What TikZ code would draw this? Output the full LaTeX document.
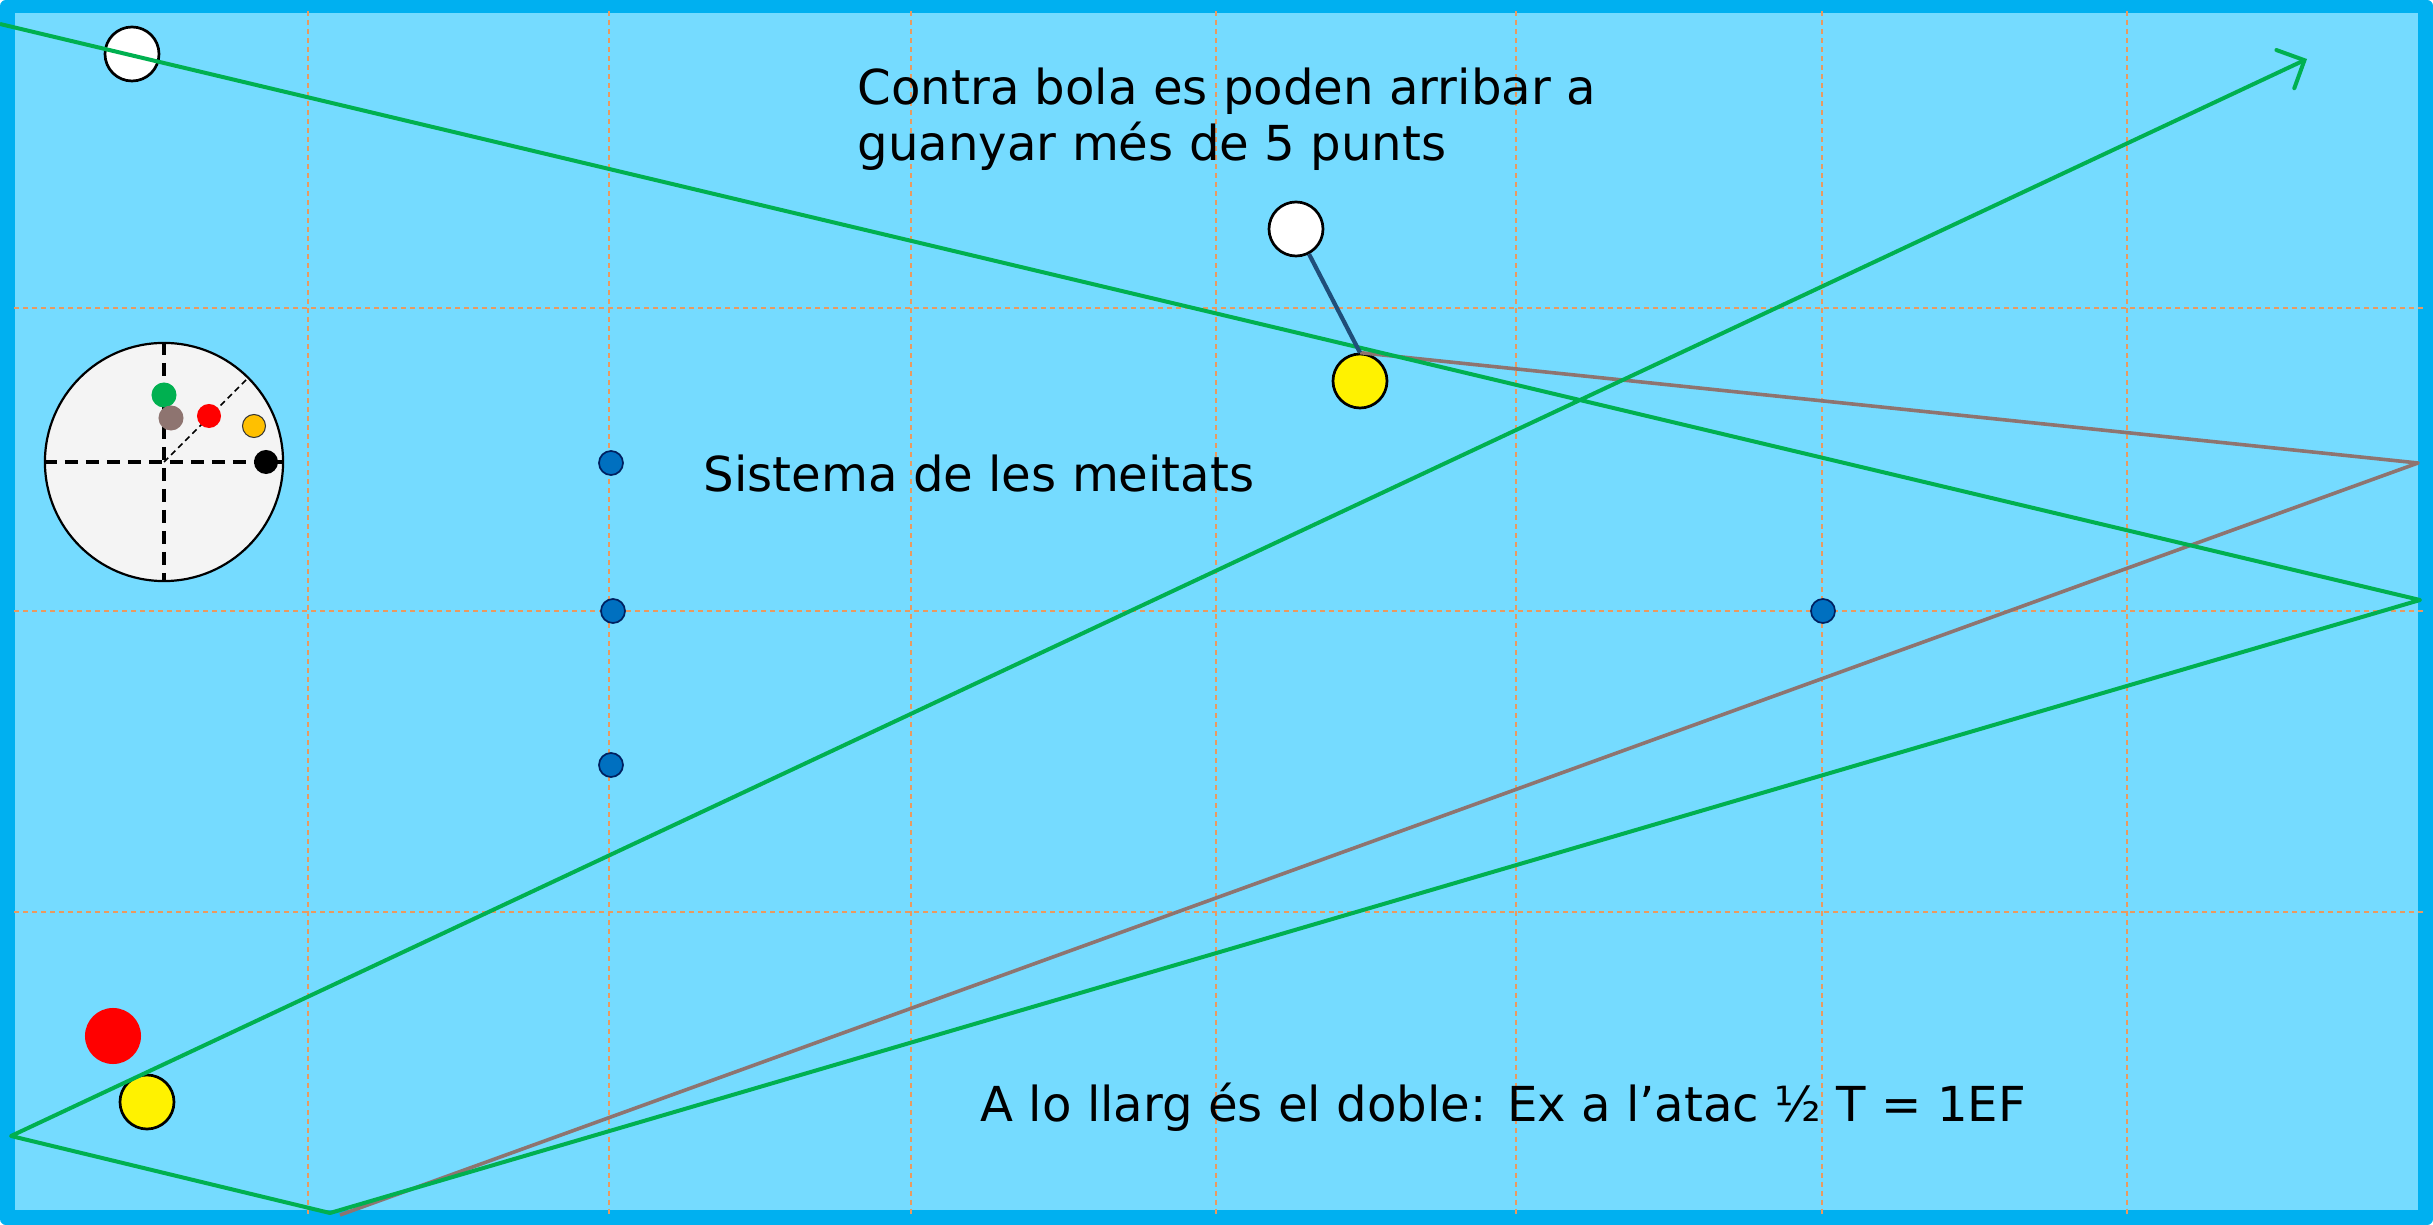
\documentclass[tikz,border=0pt]{standalone}
\usepackage{fontspec}
\setmainfont{DejaVu Sans}
\usepackage{xcolor}
\usetikzlibrary{arrows.meta}

\definecolor{frameblue}{HTML}{00B0F0}
\definecolor{cloth}{HTML}{75DBFF}
\definecolor{gridorange}{HTML}{E99A60}
\definecolor{shotgreen}{HTML}{00B050}
\definecolor{shotbrown}{HTML}{8E7470}
\definecolor{cueblue}{HTML}{1F4E79}
\definecolor{dotblue}{HTML}{0070C0}
\definecolor{dotedge}{HTML}{002060}
\definecolor{spinwhite}{HTML}{F4F4F4}
\definecolor{gold}{HTML}{FFC000}

\tikzset{
  ball/.style={circle, draw=black, line width=0.027cm, minimum size=0.54cm, inner sep=0pt},
  spot/.style={circle, draw=dotedge, fill=dotblue, line width=0.017cm, minimum size=0.24cm, inner sep=0pt},
  spinball/.style={circle, minimum size=0.25cm, inner sep=0pt},
  gridline/.style={draw=gridorange, line width=0.016cm, dash pattern=on 0.05cm off 0.04cm},
  shot/.style={draw=shotgreen, line width=0.04cm, line join=round},
  crossline/.style={line width=0.032cm, dash pattern=on 0.13cm off 0.08cm},
  note/.style={inner sep=0pt, font=\fontsize{13.7pt}{16pt}\selectfont}
}

\begin{document}
\begin{tikzpicture}[x=0.01cm, y=-0.01cm]
        % table and cloth
        \fill[frameblue, rounded corners=0.06cm] (0,0) rectangle (2433,1225);
        \fill[cloth] (15,13) rectangle (2418,1210);
        \useasboundingbox (0,0) rectangle (2433,1225);
    % grid
    \foreach \x in {308,609,911,1216,1516,1822,2127}
    \draw[gridline] (\x,11) -- (\x,1217);
    \foreach \y in {308,611,912}
    \draw[gridline] (14,\y) -- (2427,\y);

    % diamonds
    \node[spot] (d1) at (611,463) {};
    \node[spot] (d2) at (613,611) {};
    \node[spot] (d3) at (611,765) {};
    \node[spot] (d4) at (1823,611) {};

    % spin diagram
    \node[circle, draw=black, fill=spinwhite, line width=0.022cm, minimum size=2.38cm, inner sep=0pt] (spin) at (164,462) {};
    \draw[crossline] (spin.west) -- (spin.east);
    \draw[crossline] (spin.north) -- (spin.south);
    \draw[line width=0.015cm, dash pattern=on 0.06cm off 0.04cm] (spin.center) -- (spin.45);
    \node[spinball, fill=shotgreen] (sgreen) at (164,395) {};
    \node[spinball, fill=shotbrown] (sbrown) at (171,418) {};
    \node[spinball, fill=red, minimum size=0.24cm] (sred) at (209,416) {};
    \node[spinball, fill=gold, draw=black!80, line width=0.01cm, minimum size=0.23cm] (sgold) at (254,426) {};
    \node[spinball, fill=black, minimum size=0.24cm] (sblack) at (266,462) {};

    % balls
    \node[ball, fill=white] (white1) at (132,54) {};
    \node[ball, fill=white] (cueball) at (1296,229) {};
    \node[ball, fill=yellow] (objball) at (1360,381) {};
    \node[circle, fill=red, minimum size=0.56cm, inner sep=0pt] (red1) at (113,1036) {};
    \node[ball, fill=yellow] (yellow1) at (147,1102) {};

    % bounce points
    \coordinate (start) at (0,24);
    \coordinate (r1) at (2420,600);
    \coordinate (b1) at (330,1213);
    \coordinate (l1) at (11,1136);
    \coordinate (aim) at (2307,59);
    \coordinate (r2) at (2418,463);
    \coordinate (b2) at (340,1215);

    \draw[draw=shotbrown, line width=0.036cm, line join=round] (objball.north) -- (r2) -- (b2);
    \draw[shot, -{Straight Barb[length=6pt,width=12pt,line cap=round]}] (start) -- (r1) -- (b1) -- (l1) -- (aim);
    \draw[cueblue, line width=0.042cm] (cueball) -- (objball.north);

    % texts
    \node[note, anchor=north west, align=left] (contra) at (857,67) {Contra bola es poden arribar a\\guanyar més de 5 punts};
    \node[note, anchor=base west] (meitats) at (703,492) {Sistema de les meitats};
    \node[note, anchor=base west] (llarg) at (980,1121) {A lo llarg és el doble: Ex a l’atac ½ T = 1EF};
\end{tikzpicture}
\end{document}
